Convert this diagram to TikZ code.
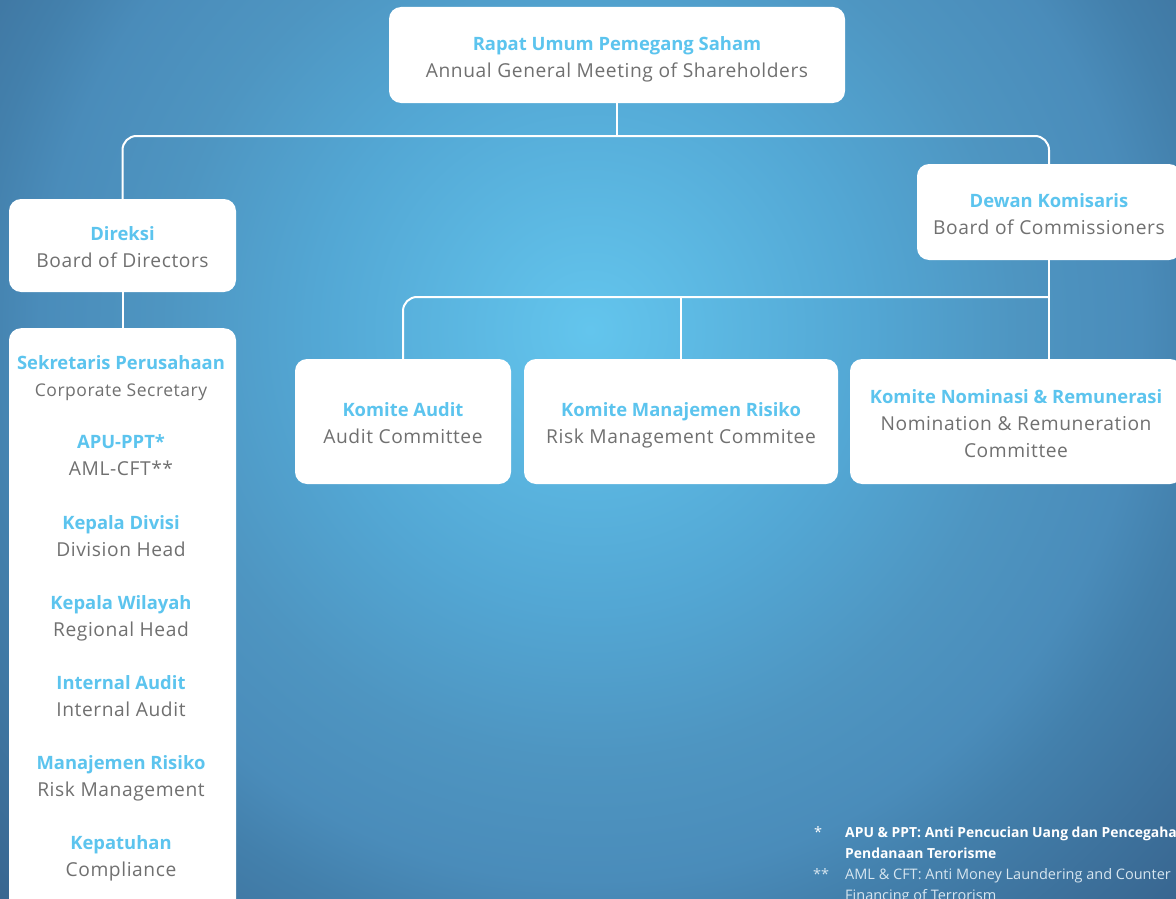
\documentclass[tikz,border=0pt]{standalone}
\usepackage{fontspec}
\setmainfont{Open Sans}
\newfontfamily\subfont[LetterSpace=3]{Open Sans}
\definecolor{cA}{HTML}{63C5ED}
\definecolor{cB}{HTML}{53A7D4}
\definecolor{cC}{HTML}{4E95C1}
\definecolor{cD}{HTML}{4A8CBA}
\definecolor{cE}{HTML}{4380AC}
\definecolor{cF}{HTML}{38658F}
\definecolor{ttl}{HTML}{5CC4EE}
\definecolor{sub}{HTML}{707070}
\pgfdeclareradialshading{bgshade}{\pgfpoint{0bp}{0bp}}{color(0bp)=(cA); color(8bp)=(cB); color(12.5bp)=(cC); color(16bp)=(cD); color(18bp)=(cE); color(24bp)=(cF); color(50bp)=(cF)}
\newcommand{\ttx}[1]{{\fontsize{18.4}{27}\selectfont\bfseries\color{ttl}\vphantom{Äg}#1}}
\newcommand{\stx}[1]{{\fontsize{19.2}{27}\selectfont\subfont\color{sub}\vphantom{Äg}#1}}
\begin{document}
\begin{tikzpicture}[x=1pt,y=-1pt,
  box/.style={fill=white, rounded corners=12pt, inner sep=0pt},
  txt/.style={inner sep=0pt, align=center, font=\fontsize{18.4}{27}\selectfont, yshift=-2.5pt},
  conn/.style={draw=white, line width=2pt, rounded corners=14pt},
  note/.style={inner sep=0pt, anchor=base west, font=\fontsize{14.5}{21}\selectfont, text=white},
  note2/.style={note, text=white!78!cD}]
\useasboundingbox (0,0) rectangle (1176,899);
\clip (0,0) rectangle (1176,899);
\shade[shading=bgshade] (590,330) circle (860);
% boxes
\node[box, minimum width=456pt, minimum height=96pt] (rups) at (617,55) {};
\node[box, minimum width=227pt, minimum height=93pt] (direksi) at (122.5,245.5) {};
\node[box, minimum width=264pt, minimum height=96pt] (dewan) at (1049,212) {};
\node[box, minimum width=216pt, minimum height=125pt] (audit) at (403,421.5) {};
\node[box, minimum width=314pt, minimum height=125pt] (risiko) at (681,421.5) {};
\node[box, minimum width=332pt, minimum height=125pt] (nominasi) at (1016,421.5) {};
\node[box, minimum width=227pt, minimum height=600pt, anchor=north] (kolom) at (122.5,328) {};
% box texts
\node[txt] (rupsT) at (rups.center) {\ttx{Rapat Umum Pemegang Saham}\\\stx{Annual General Meeting of Shareholders}};
\node[txt] (direksiT) at (direksi.center) {\ttx{Direksi}\\\stx{Board of Directors}};
\node[txt] (dewanT) at (dewan.center) {\ttx{Dewan Komisaris}\\\stx{Board of Commissioners}};
\node[txt] (auditT) at (audit.center) {\ttx{Komite Audit}\\\stx{Audit Committee}};
\node[txt] (risikoT) at (risiko.center) {\ttx{Komite Manajemen Risiko}\\\stx{Risk Management Commitee}};
\node[txt] (nominasiT) at (nominasi.center) {\ttx{Komite Nominasi \& Remunerasi}\\\stx{Nomination \& Remuneration}\\\stx{Committee}};
% column texts
\node[txt] (t1) at (121,374) {\ttx{Sekretaris Perusahaan}\\{\fontsize{17.5}{27}\selectfont\subfont\color{sub}\vphantom{Äg}Corporate Secretary}};
\node[txt] (t2) at (121,453) {\ttx{APU-PPT*}\\\stx{AML-CFT**}};
\node[txt] (t3) at (121,534) {\ttx{Kepala Divisi}\\\stx{Division Head}};
\node[txt] (t4) at (121,614) {\ttx{Kepala Wilayah}\\\stx{Regional Head}};
\node[txt] (t5) at (121,694) {\ttx{Internal Audit}\\\stx{Internal Audit}};
\node[txt] (t6) at (121,774) {\ttx{Manajemen Risiko}\\\stx{Risk Management}};
\node[txt] (t7) at (121,854) {\ttx{Kepatuhan}\\\stx{Compliance}};
% connectors
\coordinate (j1) at (620,136);
\coordinate (j2) at (620,297);
\draw[conn] (rups.south) -- (rups.south |- j1);
\draw[conn] (direksi.north) -- (direksi.north |- j1) -- (dewan.north |- j1) -- (dewan.north);
\draw[conn] (direksi.south) -- (kolom.north);
\draw[conn] (dewan.south) -- (dewan.south |- nominasi.north);
\draw[conn] (audit.north) -- (audit.north |- j2) -- (dewan.south |- j2);
\draw[conn] (risiko.north) -- (risiko.north |- j2);
% footnotes
\node[note] (s1) at (814,837) {*};
\node[note, font=\fontsize{13.9}{21}\selectfont\bfseries] (n1a) at (845,837) {APU \& PPT: Anti Pencucian Uang dan Pencegahan};
\node[note, font=\fontsize{13.9}{21}\selectfont\bfseries] (n1b) at (845,858) {Pendanaan Terorisme};
\node[note2] (s2) at (813,879) {**};
\node[note2] (n2a) at (845,879) {AML \& CFT: Anti Money Laundering and Counter};
\node[note2] (n2b) at (845,900) {Financing of Terrorism};
\end{tikzpicture}
\end{document}
